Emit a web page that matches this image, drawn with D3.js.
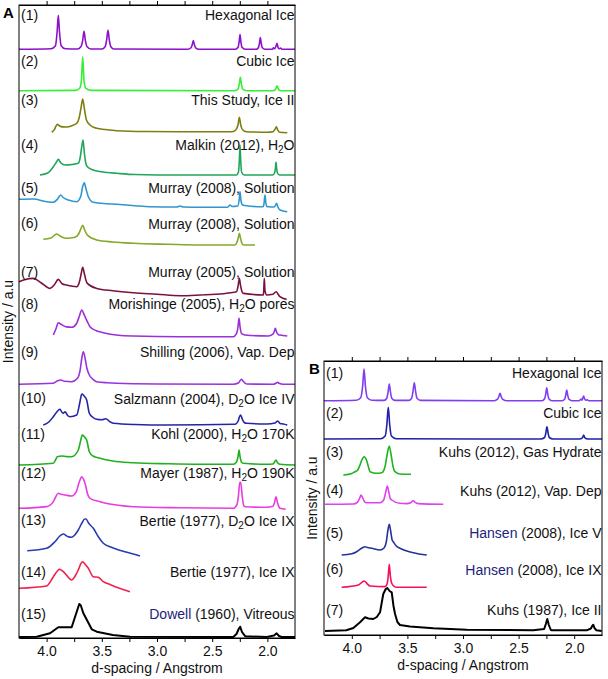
<!DOCTYPE html>
<html><head><meta charset="utf-8">
<script src="https://cdn.jsdelivr.net/npm/d3@7"></script>
<style>
html,body{margin:0;padding:0;background:#fff;}
text{font-family:Arial,"Liberation Sans",sans-serif;}
</style></head>
<body><svg id="chart" width="608" height="679"></svg>
<script>
// ---------------- DATA ----------------
const dDomain = [4.25, 1.75];
const tickValues = [4.0, 3.75, 3.5, 3.25, 3.0, 2.75, 2.5, 2.25, 2.0];
const tickLabels = ["4.0", "3.5", "3.0", "2.5", "2.0"];
const xTitle = "d-spacing / Angstrom";
const yTitle = "Intensity / a.u";

const labelsA = ["Hexagonal Ice", "Cubic Ice", "This Study, Ice II", "Malkin (2012), H{2}O",
  "Murray (2008), Solution", "Murray (2008), Solution", "Murray (2005), Solution",
  "Morishinge (2005), H{2}O pores", "Shilling (2006), Vap. Dep", "Salzmann (2004), D{2}O Ice IV",
  "Kohl (2000), H{2}O 170K", "Mayer (1987), H{2}O 190K", "Bertie (1977), D{2}O Ice IX",
  "Bertie (1977), Ice IX", "<Dowell> (1960), Vitreous"];
const labelsB = ["Hexagonal Ice", "Cubic Ice", "Kuhs (2012), Gas Hydrate", "Kuhs (2012), Vap. Dep",
  "<Hansen> (2008), Ice V", "<Hansen> (2008), Ice IX", "Kuhs (1987), Ice II"];

// vertical offsets of each trace (a.u.)
const offsetsA = [588.7, 547.3, 505.3, 463, 428, 393, 341.3, 301.3, 253.7, 213, 173, 129.7, 82, 46.3, 1];
const offsetsB = [234.3, 196, 160, 130.7, 80, 47.7, 4];

// traces: [d-spacing, intensity above offset]
const A1 = [[4.25,0],[3.96,0.5],[3.92,3.5],[3.905,17],[3.894,34],[3.883,17],[3.868,3.5],[3.83,0.5],
 [3.72,0.3],[3.69,2.5],[3.673,9],[3.661,18],[3.649,9],[3.633,2.5],[3.6,0.3],
 [3.5,0.3],[3.47,2.5],[3.456,9.5],[3.444,19],[3.432,9.5],[3.418,2.5],[3.39,0.3],
 [2.72,0],[2.692,1.5],[2.681,4.5],[2.671,8.7],[2.661,4.5],[2.65,1.5],[2.62,0],
 [2.29,0],[2.266,2],[2.256,7.5],[2.248,14.7],[2.24,7.5],[2.23,2],[2.2,0],
 [2.1,0],[2.082,1.5],[2.072,6],[2.064,11.7],[2.056,6],[2.046,1.5],[2.02,0],
 [1.955,0],[1.945,1.6],[1.935,0.5],[1.922,3],[1.913,6],[1.904,2],[1.895,0.5],[1.88,1.3],[1.87,0],[1.75,0]];
const A2 = [[4.25,0],[3.74,0.3],[3.7,2.5],[3.685,10],[3.673,34],[3.661,10],[3.646,2.5],[3.6,0.3],
 [2.3,0],[2.266,1.5],[2.255,6.5],[2.245,13.3],[2.235,6.5],[2.224,1.5],[2.19,0],
 [1.95,0],[1.93,1],[1.922,2.5],[1.913,5],[1.904,2.5],[1.896,1],[1.88,0],[1.75,0]];
const A3 = [[3.954,0.5],[3.93,3],[3.915,6.5],[3.903,8.3],[3.885,7],[3.86,5.8],[3.82,5.7],[3.77,7],
 [3.727,9.4],[3.705,15],[3.688,25],[3.673,33.7],[3.658,24],[3.64,13],[3.607,7.7],[3.546,4.4],
 [3.47,3.2],[3.365,2],[3.1,1.2],[2.8,1],[2.32,1],[2.285,3],[2.266,8],[2.254,15.3],[2.242,8],
 [2.225,3],[2.19,1],[2.0,0.5],[1.95,1],[1.93,3.5],[1.919,6],[1.908,3],[1.89,0.5],[1.82,0]];
const A4 = [[4.06,0],[3.99,2],[3.939,8.3],[3.91,13],[3.894,15.7],[3.87,12],[3.833,10],[3.77,10.5],
 [3.713,11.7],[3.695,18],[3.682,28],[3.67,35],[3.658,22],[3.645,12],[3.631,8.3],[3.577,5],
 [3.45,2.5],[3.365,1.7],[3.2,0.5],[2.8,0],[2.28,0],[2.262,3],[2.254,15],[2.248,30],[2.242,15],
 [2.234,3],[2.21,0],[1.95,0],[1.935,2],[1.928,6.5],[1.922,12.7],[1.916,6.5],[1.909,2],[1.89,0],[1.75,0]];
const A5 = [[4.25,10.7],[4.12,11],[4.0,8.3],[3.94,7.7],[3.9,11],[3.873,15],[3.85,12.5],[3.803,10],
 [3.727,8.3],[3.69,14],[3.672,24],[3.658,27.3],[3.645,22],[3.622,13.3],[3.577,7.7],[3.45,6.3],
 [3.365,5.7],[3.2,4.3],[3.063,3.3],[2.82,3],[2.792,4],[2.76,3],[2.61,2.7],[2.36,2.8],[2.339,5],
 [2.32,3.5],[2.27,4],[2.256,10],[2.248,18.3],[2.24,10],[2.225,5],[2.203,4.5],[2.06,3.3],[2.037,3.5],
 [2.029,8],[2.022,15],[2.015,8],[2.006,3.5],[1.99,3.3],[1.94,3],[1.925,5],[1.916,6.7],[1.905,3],
 [1.886,0],[1.82,-1.7]];
const A6 = [[4.03,5.7],[3.96,7],[3.909,11],[3.87,8.5],[3.82,6.7],[3.743,7.7],[3.71,11],[3.69,16],
 [3.673,19.7],[3.655,15],[3.631,10],[3.546,5],[3.4,3],[3.215,1.7],[2.9,0.7],[2.61,0],[2.294,0],
 [2.275,3],[2.264,7],[2.254,11.7],[2.244,7],[2.232,2],[2.217,0],[2.112,0]];
const A7 = [[4.25,15],[4.2,17],[4.12,18.3],[4.05,14],[3.969,8.3],[3.93,12],[3.894,17.3],[3.86,13],
 [3.82,11.7],[3.727,10],[3.7,16],[3.685,24],[3.673,29.3],[3.66,24],[3.645,17],[3.631,13.3],
 [3.546,8.3],[3.4,6],[3.215,4],[3.0,2.5],[2.792,1],[2.61,1.7],[2.4,3],[2.339,4],[2.28,5],[2.265,11],
 [2.254,18.3],[2.243,11],[2.23,5],[2.217,3.3],[2.037,1.7],[2.033,6],[2.028,18.3],[2.022,6],
 [2.006,1.7],[1.95,2.5],[1.922,5],[1.9,2],[1.886,0],[1.826,-2.7]];
const A8 = [[3.939,1.7],[3.915,8],[3.894,14],[3.87,12.5],[3.82,9.8],[3.773,9.4],[3.73,13],[3.705,20],
 [3.682,26.7],[3.66,22],[3.631,15],[3.607,10],[3.55,6],[3.486,4],[3.35,1.5],[3.215,0.7],[2.8,0],
 [2.309,0],[2.28,3],[2.266,10],[2.257,18.4],[2.248,10],[2.233,3],[2.203,1.7],[1.992,0.7],[1.95,2.5],
 [1.937,5.5],[1.928,8.4],[1.918,5],[1.9,2],[1.886,1.7],[1.82,0.7]];
const A9 = [[4.25,0],[3.939,1],[3.9,3.5],[3.87,4.3],[3.84,3],[3.773,2.6],[3.72,6],[3.695,15],[3.68,27],
 [3.667,32.6],[3.653,27],[3.635,16],[3.613,9.3],[3.58,5],[3.546,2.6],[3.45,1.5],[3.365,1],[3.0,0.3],
 [2.309,0],[2.26,1.5],[2.245,4],[2.233,5],[2.22,3],[2.188,0.3],[1.946,0],[1.92,1.3],[1.907,2],
 [1.895,1],[1.856,0],[1.75,0]];
const A10 = [[4.03,0],[3.98,3],[3.939,8.3],[3.9,14],[3.879,15.7],[3.86,12.5],[3.849,11.7],[3.833,13.3],
 [3.81,9.5],[3.788,8.3],[3.727,10],[3.7,22],[3.685,30],[3.677,31],[3.66,29],[3.637,25],[3.613,11.7],
 [3.58,7.5],[3.546,5.7],[3.5,5.2],[3.462,6.3],[3.43,3.5],[3.396,1.7],[3.2,0.5],[2.913,0],[2.294,0.7],
 [2.265,4],[2.252,8.5],[2.242,10],[2.228,6],[2.21,2.5],[2.188,1.7],[2.006,1],[1.93,2],[1.907,4],
 [1.885,1.5],[1.856,1],[1.82,0]];
const A11 = [[4.25,0],[3.939,1.7],[3.915,6],[3.903,8.3],[3.863,9],[3.82,8.4],[3.773,8.3],[3.713,15],
 [3.69,25],[3.677,30],[3.66,28.5],[3.637,25],[3.613,13.3],[3.58,9],[3.516,6.7],[3.4,4],[3.215,2.3],
 [2.9,1.2],[2.61,0.7],[2.309,0.7],[2.28,3],[2.266,8.5],[2.257,15],[2.248,8.5],[2.232,2.5],[2.217,1.7],
 [2.006,0.7],[1.95,1],[1.935,3],[1.922,5],[1.91,2.5],[1.886,0.7],[1.75,0]];
const A12 = [[4.25,0],[4.0,1.7],[3.939,6.7],[3.915,12],[3.894,15],[3.87,14],[3.833,13.3],[3.773,12.3],
 [3.73,17],[3.713,23.3],[3.695,29],[3.682,31.6],[3.665,29],[3.645,22],[3.631,15],[3.607,10],
 [3.516,6.6],[3.35,3],[3.215,1.6],[2.8,0.5],[2.309,0],[2.275,4],[2.262,13],[2.25,26],[2.242,26],
 [2.228,12],[2.215,3],[2.203,1.6],[2.006,1],[1.95,2],[1.935,6],[1.922,11.6],[1.91,6],[1.895,1.5],
 [1.886,0],[1.834,-1]];
const A13 = [[4.175,5.3],[4.0,7.7],[3.924,14.3],[3.88,20],[3.849,22],[3.81,19.5],[3.773,18.7],
 [3.745,21],[3.713,26],[3.68,33],[3.655,37],[3.643,37],[3.62,33],[3.577,27.7],[3.53,19],[3.486,12.7],
 [3.42,9],[3.365,6.7],[3.3,4.5],[3.215,2],[3.154,0]];
const A14 = [[4.25,3.4],[4.0,5.7],[3.939,15],[3.9,21],[3.885,22.4],[3.86,21],[3.833,18.4],[3.773,11.7],
 [3.74,16],[3.713,21.7],[3.69,28],[3.673,30],[3.655,28],[3.622,23.4],[3.577,15],[3.532,14.4],
 [3.486,10],[3.42,7],[3.365,4.4],[3.3,2],[3.245,0]];
const A15 = [[4.25,0],[4.09,0.3],[3.969,3.7],[3.894,9.7],[3.773,9.7],[3.704,33],[3.69,31.5],
 [3.667,23.7],[3.591,7.7],[3.546,5.3],[3.4,2],[3.244,0.3],[2.309,0],[2.28,3],[2.26,8],[2.247,10.3],
 [2.23,5],[2.2,0.7],[2.006,0],[1.94,1.5],[1.916,3.7],[1.895,1],[1.871,0],[1.75,0]];

const B1 = [[4.25,0],[3.96,0.5],[3.92,3],[3.902,15],[3.89,31.7],[3.878,15],[3.86,3],[3.82,0.5],
 [3.71,0.3],[3.685,2.5],[3.674,8.5],[3.663,16.7],[3.652,8.5],[3.641,2.5],[3.61,0.3],
 [3.49,0.3],[3.462,2.5],[3.45,9],[3.438,18],[3.426,9],[3.414,2.5],[3.38,0.3],
 [2.72,0],[2.689,1.5],[2.678,4],[2.667,7.4],[2.656,4],[2.645,1.5],[2.61,0],
 [2.29,0],[2.266,2],[2.256,6.5],[2.247,13],[2.238,6.5],[2.228,2],[2.2,0],
 [2.11,0],[2.086,1.5],[2.076,5.5],[2.067,10.7],[2.058,5.5],[2.048,1.5],[2.02,0],
 [1.955,0],[1.945,1],[1.939,1.7],[1.93,0.5],[1.923,2.5],[1.915,4.7],[1.907,2],[1.895,0.5],[1.882,1],[1.87,0],[1.75,0]];
const B2 = [[4.25,0],[3.74,0.3],[3.7,3],[3.685,14],[3.672,31.7],[3.659,14],[3.644,3],[3.6,0.3],
 [2.3,0],[2.266,1.5],[2.255,6],[2.245,12.3],[2.235,6],[2.224,1.5],[2.19,0],
 [1.95,0],[1.93,0.8],[1.922,2],[1.915,4],[1.908,2],[1.9,0.8],[1.88,0],[1.75,0]];
const B3 = [[4.076,0],[4.0,1.5],[3.971,3.3],[3.95,4.5],[3.93,9],[3.91,15],[3.888,18.3],[3.868,15],
 [3.85,8],[3.836,3.3],[3.776,1.7],[3.731,2.3],[3.72,3],[3.7,9],[3.683,20],[3.663,29],[3.645,19],
 [3.628,8],[3.612,3.3],[3.567,1],[3.468,0.7]];
const B4 = [[4.241,0],[3.987,0.3],[3.95,2],[3.93,6],[3.917,9.3],[3.9,6],[3.885,2.5],[3.866,1.6],
 [3.746,1.6],[3.715,4],[3.695,12],[3.681,18.3],[3.667,12],[3.655,6],[3.641,4.3],[3.567,1],
 [3.506,0.7],[3.47,1.5],[3.455,3.3],[3.447,3.6],[3.435,2.5],[3.402,0.7],[3.177,0]];
const B5 = [[4.091,0],[4.0,1.2],[3.956,3.3],[3.9,7.5],[3.881,8.3],[3.86,7.5],[3.821,6.7],[3.746,5],
 [3.71,7],[3.69,13],[3.675,25],[3.663,30.7],[3.652,25],[3.637,15],[3.627,13.3],[3.6,9],[3.567,6.7],
 [3.447,2.3],[3.326,0]];
const B6 = [[4.091,0],[3.941,2.3],[3.91,5],[3.888,6.3],[3.865,4],[3.836,1.3],[3.701,0.7],[3.681,4],
 [3.672,12],[3.663,23],[3.654,12],[3.641,4],[3.62,1],[3.596,0],[3.326,0]];
const B7 = [[4.241,0],[4.05,0.7],[3.986,3],[3.926,8.7],[3.881,13.7],[3.85,12.5],[3.807,12],[3.775,14],
 [3.746,18.7],[3.725,32],[3.717,37],[3.695,42],[3.681,43],[3.66,40],[3.641,38.7],[3.625,25],
 [3.611,17],[3.59,9],[3.567,6],[3.477,4.5],[3.267,2.7],[2.967,1.3],[2.368,0.7],[2.27,2],[2.255,7],
 [2.242,12],[2.228,6],[2.21,1],[2.202,0.7],[1.887,0.7],[1.85,2.5],[1.838,5],[1.828,6.3],[1.818,3],
 [1.8,0.7],[1.753,0]];

const seriesA = [A1,A2,A3,A4,A5,A6,A7,A8,A9,A10,A11,A12,A13,A14,A15];
const seriesB = [B1,B2,B3,B4,B5,B6,B7];

// ---------------- STYLE / LAYOUT ----------------
const colorsA = ["#8b12c9","#36ee36","#7e7e12","#1fa65a","#2f96cf","#86a828","#7a1240","#9b30d8",
  "#9933dd","#2525a5","#20b020","#e83ce0","#2a3cb0","#f0204a","#000000"];
const colorsB = ["#7f3ff0","#1f1fa8","#20b320","#e040f0","#253399","#f5105a","#000000"];
const labelYA = [16, 62, 101, 146, 189, 224.5, 273, 305, 353, 399.5, 435, 474, 521.5, 573, 615];
const labelYB = [374, 414, 453, 491.7, 534.3, 570.7, 611];

const svg = d3.select("#chart");

function drawPanel(cfg) {
  const x = d3.scaleLinear().domain(dDomain).range([cfg.left, cfg.right]);
  const y = d3.scaleLinear().domain([0, cfg.bottom - cfg.top]).range([cfg.bottom, cfg.top]);
  const g = svg.append("g");

  cfg.series.forEach((s, i) => {
    const linear = cfg.linear.includes(i);
    const line = d3.line()
      .x(p => x(p[0]))
      .y(p => y(p[1] + cfg.offsets[i]))
      .curve(linear ? d3.curveLinear : d3.curveMonotoneX);
    g.append("path").datum(s)
      .attr("d", line)
      .attr("fill", "none")
      .attr("stroke", cfg.colors[i])
      .attr("stroke-width", cfg.colors[i] === "#000000" ? 2 : 1.6)
      .attr("stroke-linejoin", "round");
  });

  cfg.labels.forEach((lab, i) => {
    g.append("text").attr("x", cfg.left + 2).attr("y", cfg.labelY[i])
      .attr("dominant-baseline", "middle").attr("font-size", 14).attr("fill", "#111")
      .text("(" + (i + 1) + ")");
    const t = g.append("text").attr("x", cfg.right - 0.5).attr("y", cfg.labelY[i])
      .attr("text-anchor", "end").attr("dominant-baseline", "middle")
      .attr("font-size", 14).attr("fill", "#111");
    const parts = lab.split(/(\{\d\}|<[^>]+>)/).filter(p => p.length);
    let sub = false;
    parts.forEach(p => {
      if (p.startsWith("{")) {
        t.append("tspan").attr("font-size", 10).attr("dy", 4).text(p.slice(1, -1));
        sub = true;
      } else if (p.startsWith("<")) {
        t.append("tspan").attr("fill", "#1c237a").text(p.slice(1, -1));
      } else {
        const ts = t.append("tspan").text(p);
        if (sub) { ts.attr("dy", -4); sub = false; }
      }
    });
  });

  g.append("rect").attr("x", cfg.left).attr("y", cfg.top)
    .attr("width", cfg.right - cfg.left).attr("height", cfg.bottom - cfg.top)
    .attr("fill", "none").attr("stroke", "#000").attr("stroke-width", 1);

  const fmt = v => { const s = v.toFixed(1); return tickLabels.includes(s) && Math.abs(v * 2 - Math.round(v * 2)) < 1e-9 ? s : ""; };
  const top = g.append("g").attr("transform", `translate(0,${cfg.top})`)
    .call(d3.axisTop(x).tickValues(tickValues).tickFormat("").tickSize(4).tickSizeOuter(0));
  const bot = g.append("g").attr("transform", `translate(0,${cfg.bottom})`)
    .call(d3.axisBottom(x).tickValues(tickValues).tickFormat(fmt).tickSize(4).tickSizeOuter(0).tickPadding(4));
  [top, bot].forEach(a => {
    a.select(".domain").attr("stroke", "#000");
    a.selectAll(".tick line").attr("stroke", "#000");
    a.selectAll(".tick text").attr("font-size", 14).attr("fill", "#111")
      .style("font-family", 'Arial,"Liberation Sans",sans-serif');
  });

  g.append("text").attr("x", (cfg.left + cfg.right) / 2).attr("y", cfg.bottom + 31)
    .attr("text-anchor", "middle").attr("dominant-baseline", "middle")
    .attr("font-size", 14).attr("fill", "#111").text(xTitle);
  g.append("text")
    .attr("transform", `translate(${cfg.yTitleX},${(cfg.top + cfg.bottom) / 2}) rotate(-90)`)
    .attr("text-anchor", "middle").attr("dominant-baseline", "middle")
    .attr("font-size", 14).attr("fill", "#111").text(yTitle);
  g.append("text").attr("x", cfg.panelX).attr("y", cfg.panelY)
    .attr("dominant-baseline", "middle").attr("font-size", 15).attr("font-weight", "bold")
    .attr("fill", "#000").text(cfg.panel);
}

drawPanel({left: 19, right: 295, top: 5, bottom: 638, series: seriesA, offsets: offsetsA,
  colors: colorsA, labels: labelsA, labelY: labelYA, linear: [14], yTitleX: 9,
  panel: "A", panelX: 3, panelY: 14});
drawPanel({left: 324, right: 602, top: 361, bottom: 635, series: seriesB, offsets: offsetsB,
  colors: colorsB, labels: labelsB, labelY: labelYB, linear: [6], yTitleX: 313,
  panel: "B", panelX: 309, panelY: 370});
</script></body></html>
